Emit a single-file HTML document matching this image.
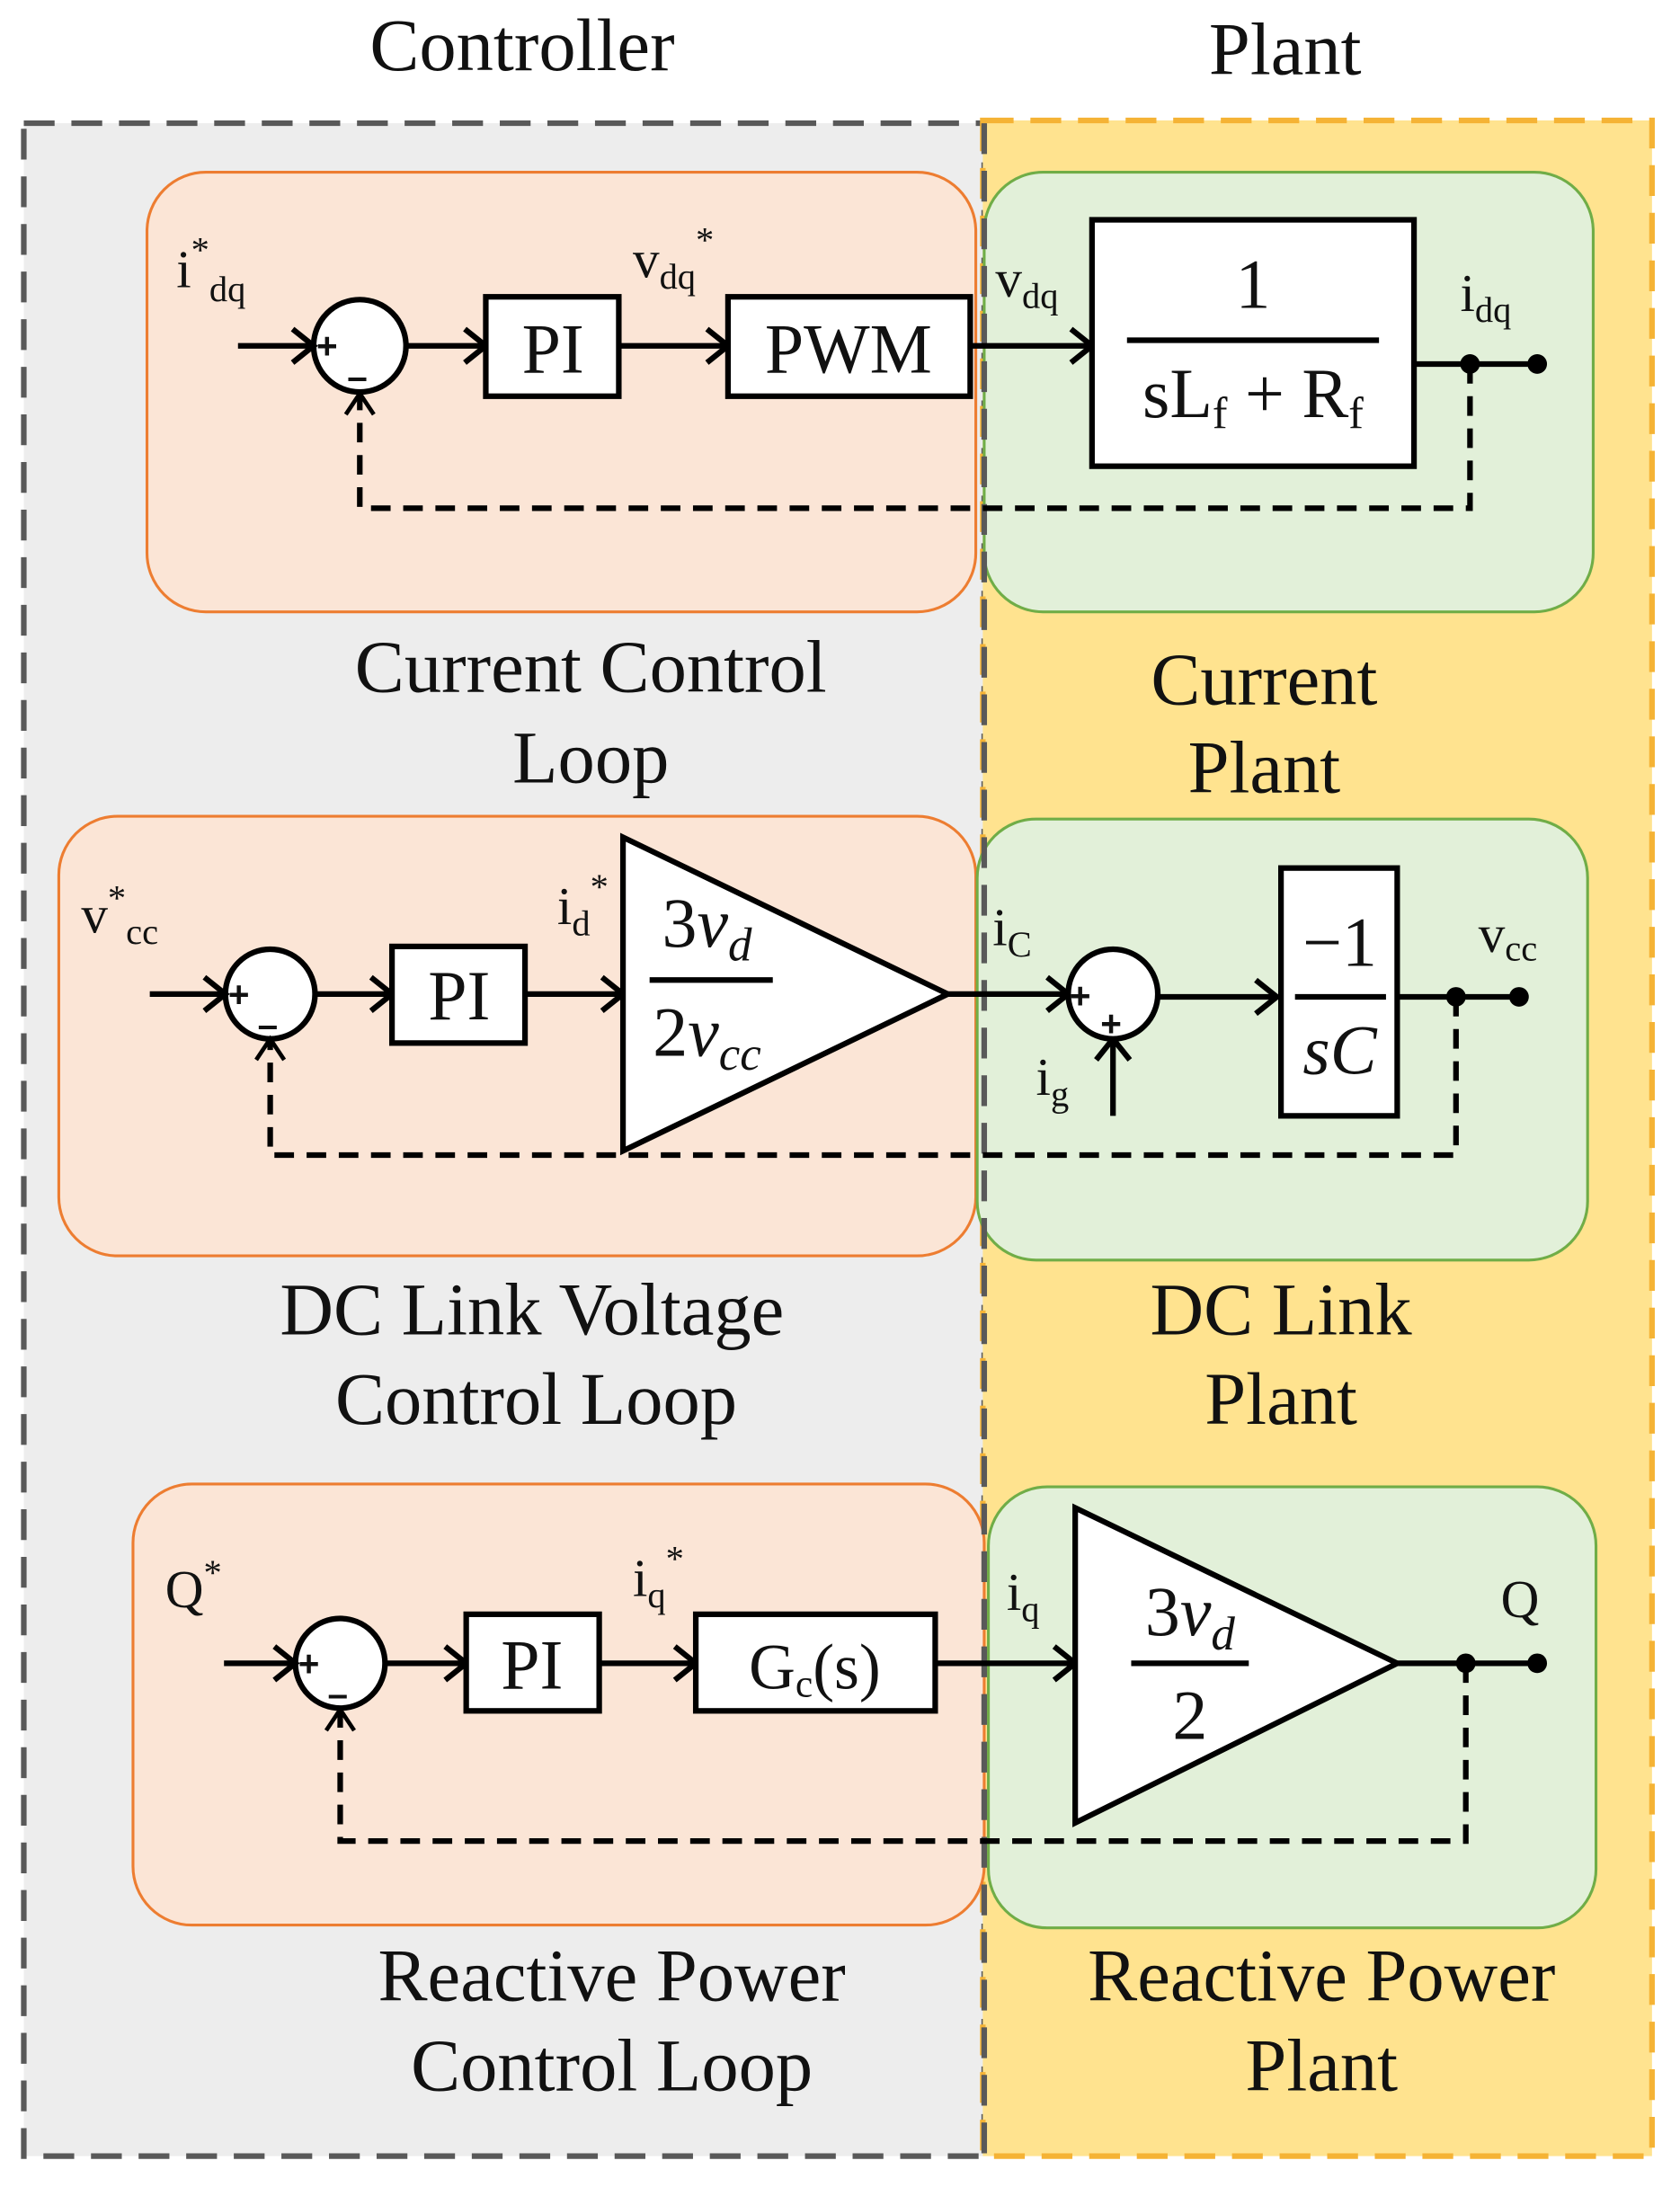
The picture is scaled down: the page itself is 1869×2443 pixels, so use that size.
<!DOCTYPE html>
<html><head><meta charset="utf-8"><style>
html,body{margin:0;padding:0;background:#fff;}
svg{display:block;}
text{font-family:"Liberation Serif",serif;fill:#111;}
.t{font-size:53px;text-anchor:middle;}
.b{font-size:50px;text-anchor:middle;}
.l{font-size:38px;}
.s{font-size:26px;}
.m{font-style:italic;}
.sg{font-size:26px;font-family:"Liberation Sans",sans-serif;font-weight:bold;}
</style></head><body>
<svg width="1869" height="2443" viewBox="0 0 1200 1568.5" preserveAspectRatio="none" xmlns="http://www.w3.org/2000/svg">
<rect width="1200" height="1569" fill="#fff"/>
<text class="t" x="373" y="50">Controller</text>
<text class="t" x="918" y="53">Plant</text>
<rect x="17" y="88" width="686" height="1452" fill="#ededed" stroke="#595959" stroke-width="4" stroke-dasharray="22,12"/>
<rect x="702" y="86" width="478" height="1454" fill="#ffe38f" stroke="#f5b335" stroke-width="4" stroke-dasharray="22,12"/>
<rect x="105" y="123" width="592" height="314" rx="42" fill="#fbe5d6" stroke="#ed7d31" stroke-width="2"/>
<rect x="703" y="123" width="435" height="314" rx="42" fill="#e2f0d9" stroke="#70ad47" stroke-width="2"/>
<rect x="42" y="583" width="655" height="314" rx="42" fill="#fbe5d6" stroke="#ed7d31" stroke-width="2"/>
<rect x="698" y="585" width="436" height="315" rx="42" fill="#e2f0d9" stroke="#70ad47" stroke-width="2"/>
<rect x="95" y="1060" width="608" height="315" rx="42" fill="#fbe5d6" stroke="#ed7d31" stroke-width="2"/>
<rect x="706" y="1062" width="434" height="315" rx="42" fill="#e2f0d9" stroke="#70ad47" stroke-width="2"/>
<line x1="703" y1="88" x2="703" y2="1540" stroke="#595959" stroke-width="4" stroke-dasharray="22,12"/>
<text class="t" x="422" y="494">Current Control</text>
<text class="t" x="422" y="559">Loop</text>
<text class="t" x="903" y="503">Current</text>
<text class="t" x="903" y="566">Plant</text>
<text class="t" x="380" y="953">DC Link Voltage</text>
<text class="t" x="383" y="1017">Control Loop</text>
<text class="t" x="915" y="953">DC Link</text>
<text class="t" x="915" y="1017">Plant</text>
<text class="t" x="437" y="1429">Reactive Power</text>
<text class="t" x="437" y="1493">Control Loop</text>
<text class="t" x="944" y="1429">Reactive Power</text>
<text class="t" x="944" y="1493">Plant</text>

<g stroke="#000" stroke-width="4" fill="none">
<circle cx="257" cy="247" r="33" fill="#fff"/>
<path d="M170 247H224M290 247H347M442 247H520M693 247H780M1010 260H1098"/>
<path d="M209 235L224 247L209 259M332 235L347 247L332 259M505 235L520 247L505 259M765 235L780 247L765 259"/>
<rect x="347" y="212" width="95" height="71" fill="#fff"/>
<rect x="520" y="212" width="173" height="71" fill="#fff"/>
<rect x="780" y="157" width="230" height="176" fill="#fff"/>
<line x1="805" y1="243" x2="985" y2="243"/>
<path d="M1050 260V363H257V282" stroke-dasharray="14,9"/>
<path d="M247 296L257 281L267 296" stroke-width="3"/>
<circle cx="193" cy="710" r="32" fill="#fff"/>
<path d="M107 710H161M225 710H280M375 710H445M677 710H763M827 712H912M998 712H1085M795 797V742"/>
<path d="M146 698L161 710L146 722M265 698L280 710L265 722M430 698L445 710L430 722M748 698L763 710L748 722M897 700L912 712L897 724M783 757L795 742L807 757"/>
<circle cx="795" cy="710" r="32" fill="#fff"/>
<rect x="280" y="676" width="95" height="69" fill="#fff"/>
<polygon points="445,598 445,822 677,710" fill="#fff"/>
<line x1="464" y1="700" x2="552" y2="700"/>
<rect x="915" y="620" width="83" height="177" fill="#fff"/>
<line x1="925" y1="712" x2="990" y2="712"/>
<path d="M1040 712V825H193V743" stroke-dasharray="14,9"/>
<path d="M183 757L193 742L203 757" stroke-width="3"/>
<circle cx="243" cy="1188" r="32" fill="#fff"/>
<path d="M160 1188H211M275 1188H333M428 1188H497M668 1188H768M998 1188H1098"/>
<path d="M196 1176L211 1188L196 1200M318 1176L333 1188L318 1200M482 1176L497 1188L482 1200M753 1176L768 1188L753 1200"/>
<rect x="333" y="1153" width="95" height="69" fill="#fff"/>
<rect x="497" y="1153" width="171" height="69" fill="#fff"/>
<polygon points="768,1077 768,1302 998,1188" fill="#fff"/>
<line x1="808" y1="1188" x2="892" y2="1188"/>
<path d="M1047 1188V1315H243V1221" stroke-dasharray="14,9"/>
<path d="M233 1236L243 1221L253 1236" stroke-width="3"/>
</g>
<g fill="#000">
<circle cx="1050" cy="260" r="7"/><circle cx="1098" cy="260" r="7"/>
<circle cx="1040" cy="712" r="7"/><circle cx="1085" cy="712" r="7"/>
<circle cx="1047" cy="1188" r="7"/><circle cx="1098" cy="1188" r="7"/>
</g>
<text class="sg" x="226" y="256">+</text>
<text class="sg" x="248" y="278">–</text>
<text class="sg" x="163" y="719">+</text>
<text class="sg" x="184" y="741">–</text>
<text class="sg" x="213" y="1197">+</text>
<text class="sg" x="234" y="1219">–</text>
<text class="sg" x="764" y="720">+</text>
<text class="sg" x="786" y="740">+</text>
<text class="b" x="395" y="266">PI</text>
<text class="b" x="606" y="266">PWM</text>
<text class="b" x="895" y="220">1</text>
<text class="b" x="895" y="298">sL<tspan font-size="32" dy="8">f</tspan><tspan dy="-8"> + R</tspan><tspan font-size="32" dy="8">f</tspan></text>
<text class="b" x="328" y="728">PI</text>
<text class="b" x="380" y="1206">PI</text>
<text class="b" x="582" y="1206" style="font-size:46px">G<tspan font-size="28" dy="6">c</tspan><tspan dy="-6">(s)</tspan></text>
<text class="b" x="505" y="676">3<tspan class="m">v</tspan><tspan class="m" font-size="34" dy="10">d</tspan></text>
<text class="b" x="505" y="754">2<tspan class="m">v</tspan><tspan class="m" font-size="34" dy="10">cc</tspan></text>
<text class="b" x="957" y="690">−1</text>
<text class="b m" x="957" y="767">sC</text>
<text class="b" x="850" y="1168">3<tspan class="m">v</tspan><tspan class="m" font-size="34" dy="10">d</tspan></text>
<text class="b" x="850" y="1242">2</text>
<text class="l" x="126" y="205">i<tspan class="s" dy="-18">*</tspan><tspan class="s" dy="28">dq</tspan></text>
<text class="l" x="452" y="198">v<tspan class="s" dy="8">dq</tspan><tspan class="s" dy="-26">*</tspan></text>
<text class="l" x="711" y="212">v<tspan class="s" dy="8">dq</tspan></text>
<text class="l" x="1043" y="222">i<tspan class="s" dy="8">dq</tspan></text>
<text class="l" x="58" y="666">v<tspan class="s" dy="-16">*</tspan><tspan class="s" dy="24">cc</tspan></text>
<text class="l" x="398" y="660">i<tspan class="s" dy="8">d</tspan><tspan class="s" dy="-26">*</tspan></text>
<text class="l" x="709" y="675">i<tspan class="s" dy="8">C</tspan></text>
<text class="l" x="740" y="782">i<tspan class="s" dy="8">g</tspan></text>
<text class="l" x="1056" y="680">v<tspan class="s" dy="6">cc</tspan></text>
<text class="l" x="118" y="1148">Q<tspan class="s" dy="-16">*</tspan></text>
<text class="l" x="452" y="1140">i<tspan class="s" dy="8">q</tspan><tspan class="s" dy="-26">*</tspan></text>
<text class="l" x="719" y="1150">i<tspan class="s" dy="8">q</tspan></text>
<text class="l" x="1072" y="1155">Q</text>
</svg>
</body></html>
